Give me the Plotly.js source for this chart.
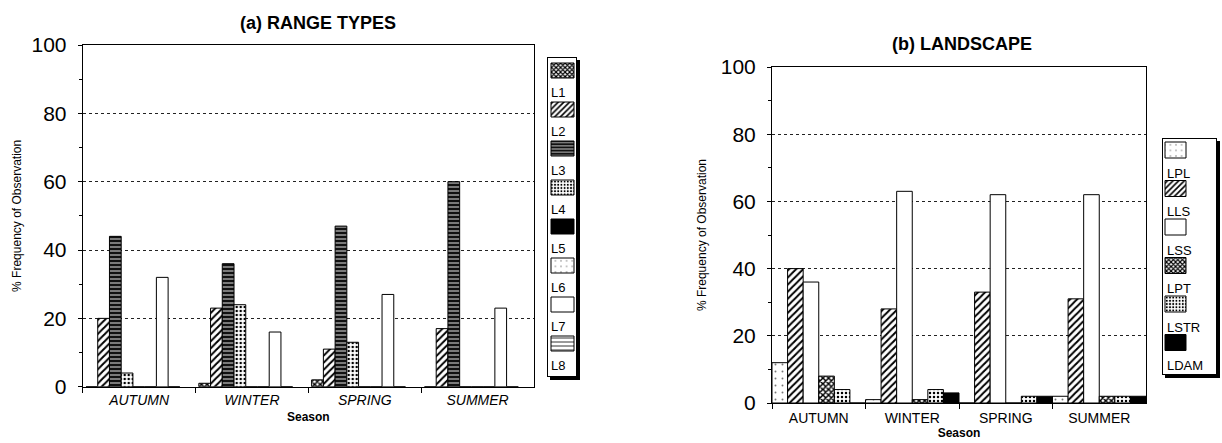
<!DOCTYPE html>
<html><head><meta charset="utf-8">
<script src="https://cdn.plot.ly/plotly-3.0.1.min.js"></script>
<style>html,body{margin:0;padding:0;background:#fff}#chart{width:1222px;height:443px}</style>
</head><body><div id="chart"></div>
<script>
// ---------- data ----------
const seasons = ["AUTUMN", "WINTER", "SPRING", "SUMMER"];

// (a) RANGE TYPES
const rangeNames = ["L1", "L2", "L3", "L4", "L5", "L6", "L7", "L8"];
const rangeL1 = [0, 1, 2, 0];
const rangeL2 = [20, 23, 11, 17];
const rangeL3 = [44, 36, 47, 60];
const rangeL4 = [4, 24, 13, 0];
const rangeL5 = [0, 0, 0, 0];
const rangeL6 = [0, 0, 0, 0];
const rangeL7 = [32, 16, 27, 23];
const rangeL8 = [0, 0, 0, 0];

// (b) LANDSCAPE
const landNames = ["LPL", "LLS", "LSS", "LPT", "LSTR", "LDAM"];
const landLPL = [12, 1, 0, 2];
const landLLS = [40, 28, 33, 31];
const landLSS = [36, 63, 62, 62];
const landLPT = [8, 1, 0, 2];
const landLSTR = [4, 4, 2, 2];
const landLDAM = [0, 3, 2, 2];

const yTicks = [0, 20, 40, 60, 80, 100];

// ---------- styles ----------
const W = 1222, H = 443;
const px = x => x / W;
const py = y => 1 - y / H;
const FONT = "Liberation Sans, Arial, Helvetica, sans-serif";

const FILLS = {
  crosshatch: {color: "#fff", pattern: {shape: "x", fgcolor: "#000", bgcolor: "#fff", size: 4, solidity: 0.6}},
  diag:       {color: "#fff", pattern: {shape: "/", fgcolor: "#000", bgcolor: "#fff", size: 5, solidity: 0.4}},
  darkh:      {color: "#111", pattern: {shape: "-", fgcolor: "#fff", bgcolor: "#111", size: 4, solidity: 0.22}},
  dots:       {color: "#fff", pattern: {shape: ".", fgcolor: "#000", bgcolor: "#fff", size: 4, solidity: 0.3}},
  black:      {color: "#000"},
  sparse:     {color: "#fff", pattern: {shape: ".", fgcolor: "#777", bgcolor: "#fff", size: 7, solidity: 0.06}},
  white:      {color: "#fff"},
  hlines:     {color: "#fff", pattern: {shape: "-", fgcolor: "#000", bgcolor: "#fff", size: 5, solidity: 0.2}}
};
const rangeFills = ["crosshatch", "diag", "darkh", "dots", "black", "sparse", "white", "hlines"];
const landFills = ["sparse", "diag", "white", "crosshatch", "dots", "black"];

const rangeSeries = [rangeL1, rangeL2, rangeL3, rangeL4, rangeL5, rangeL6, rangeL7, rangeL8];
const landSeries = [landLPL, landLLS, landLSS, landLPT, landLSTR, landLDAM];

// bar geometry for panel (a): bar width and group start as fraction of a category
const A_BAR_W = 11.75 / 113;
const A_START = 3.3 / 113;

function makeBar(name, y, fillKey, xa, ya, legendId, extra) {
  const f = FILLS[fillKey];
  const marker = {color: f.color, line: {color: "#000", width: 1}};
  if (f.pattern) marker.pattern = f.pattern;
  return Object.assign({
    type: "bar", name: name, x: seasons, y: y,
    xaxis: xa, yaxis: ya, legend: legendId, legendgroup: legendId + name,
    marker: marker, hovertemplate: name + " %{x}: %{y}%<extra></extra>"
  }, extra || {});
}

const traces = [];
rangeSeries.forEach((s, i) => traces.push(makeBar(rangeNames[i], s, rangeFills[i], "x", "y", "legend",
  {width: A_BAR_W, offset: -0.5 + A_START + i * A_BAR_W})));
landSeries.forEach((s, i) => traces.push(makeBar(landNames[i], s, landFills[i], "x2", "y2", "legend2")));

function xAxis(dom, anchor, italic, standoff, labStand) {
  return {
    domain: dom, anchor: anchor, type: "category", range: [-0.5, 3.5],
    showline: true, mirror: true, linecolor: "#000", linewidth: 1,
    ticks: "outside", tickson: "boundaries", ticklen: 5, tickcolor: "#000",
    ticklabelstandoff: labStand,
    tickfont: {family: FONT, size: 14, color: "#000", style: italic ? "italic" : "normal"},
    showgrid: false, zeroline: false, automargin: false, fixedrange: true,
    title: {text: "Season", font: {family: FONT, size: 12, weight: "bold", color: "#000"}, standoff: standoff}
  };
}
function yAxis(dom, anchor, standoff) {
  return {
    domain: dom, anchor: anchor, range: [0, 100], tickvals: yTicks,
    showline: true, mirror: true, linecolor: "#000", linewidth: 1,
    ticks: "outside", ticklen: 4, tickcolor: "#000", ticklabelstandoff: 7,
    tickfont: {family: FONT, size: 21, color: "#000"},
    showgrid: true, gridcolor: "#222", griddash: "dot", gridwidth: 1,
    zeroline: false, automargin: false, fixedrange: true,
    minor: {dtick: 10, ticks: "outside", ticklen: 3, tickcolor: "#000", showgrid: false},
    title: {text: "% Frequency of Observation", font: {family: FONT, size: 12, color: "#000"}, standoff: standoff}
  };
}

// legend boxes (pixel geometry of the reference legends)
const LEG_A = {box: {x0: 547, y0: 57, x1: 577, y1: 377}, item: {y0: 6, step: 39, sx: 4, sw: 23, sh: 15, lx: 4, ly: 34}, names: rangeNames};
const LEG_B = {box: {x0: 1162, y0: 138, x1: 1217, y1: 375}, item: {y0: 4, step: 38.5, sx: 3, sw: 21, sh: 16, lx: 5, ly: 35.5}, names: landNames};

const legendBase = {
  xanchor: "left", yanchor: "top", bgcolor: "#fff", bordercolor: "#000", borderwidth: 1,
  font: {family: FONT, size: 13, color: "#000"}, tracegroupgap: 20, itemwidth: 30,
  traceorder: "grouped"
};

function shadow(L) {
  const o = 3, b = L.box;
  return {type: "rect", xref: "paper", yref: "paper", layer: "above",
    x0: px(b.x0 + o), x1: px(b.x1 + o), y0: py(b.y1 + o), y1: py(b.y0 + o),
    fillcolor: "#000", line: {width: 0}};
}

const layout = {
  width: W, height: H, margin: {l: 0, r: 0, t: 0, b: 0, autoexpand: false},
  paper_bgcolor: "#fff", plot_bgcolor: "#fff",
  font: {family: FONT, color: "#000"},
  barmode: "group", bargap: 0, bargroupgap: 0,
  xaxis: xAxis([px(82.7), px(534)], "y", true, 6, 0),
  yaxis: yAxis([py(386.7), py(45)], "x", 7),
  xaxis2: xAxis([px(772), px(1146)], "y2", false, 3, 2),
  yaxis2: yAxis([py(403), py(67)], "x2", 11),
  legend: Object.assign({}, legendBase, {x: px(LEG_A.box.x0), y: py(LEG_A.box.y0)}),
  legend2: Object.assign({}, legendBase, {x: px(1219), y: py(LEG_B.box.y0), xanchor: "right"}),
  shapes: [shadow(LEG_A), shadow(LEG_B)],
  annotations: [
    {text: "(a) RANGE TYPES", xref: "paper", yref: "paper", x: px(318), y: py(23),
     showarrow: false, xanchor: "center", yanchor: "middle",
     font: {family: FONT, size: 18, weight: "bold", color: "#000"}},
    {text: "(b) LANDSCAPE", xref: "paper", yref: "paper", x: px(962), y: py(44),
     showarrow: false, xanchor: "center", yanchor: "middle",
     font: {family: FONT, size: 18, weight: "bold", color: "#000"}}
  ],
  showlegend: true
};

// Re-arrange Plotly's legend entries into the narrow "swatch above label" style of the reference
function compactLegend(gd, id, L) {
  const b = L.box, it = L.item;
  gd.querySelectorAll("g." + id).forEach(g => {
    g.setAttribute("transform", "translate(" + b.x0 + "," + b.y0 + ")");
    const bg = g.querySelector("rect.bg");
    if (bg) {
      bg.setAttribute("x", 0.5); bg.setAttribute("y", 0.5);
      bg.setAttribute("width", b.x1 - b.x0 - 1); bg.setAttribute("height", b.y1 - b.y0 - 1);
    }
    g.querySelectorAll("g.scrollbox").forEach(sb => { sb.removeAttribute("clip-path"); sb.setAttribute("transform", ""); });
    g.querySelectorAll("g.groups").forEach(e => e.setAttribute("transform", ""));
    g.querySelectorAll("rect.scrollbar").forEach(e => e.remove());
    let k = 0;
    g.querySelectorAll("text.legendtext, text." + id + "text").forEach(t => {
      const tr = t.closest("g.traces") || t.parentNode;
      let i = L.names.indexOf((t.textContent || "").trim());
      if (i < 0) i = k;
      k++;
      tr.setAttribute("transform", "translate(0," + (it.y0 + i * it.step) + ")");
      tr.querySelectorAll("g.legendpoints path, g." + id + "points path").forEach(p => {
        p.setAttribute("d", "M" + it.sx + ",0h" + it.sw + "v" + it.sh + "h" + (-it.sw) + "Z");
        p.removeAttribute("transform");
      });
      t.setAttribute("x", it.lx); t.setAttribute("y", it.ly);
      t.querySelectorAll("tspan").forEach(s => { if (s.hasAttribute("x")) s.setAttribute("x", it.lx); });
      tr.querySelectorAll("rect.legendtoggle, rect." + id + "toggle").forEach(e => e.remove());
    });
  });
}
function compactAll(gd) {
  try { compactLegend(gd, "legend", LEG_A); } catch (e) {}
  try { compactLegend(gd, "legend2", LEG_B); } catch (e) {}
}

Plotly.newPlot("chart", traces, layout, {staticPlot: true, displayModeBar: false}).then(gd => {
  compactAll(gd);
  gd.on("plotly_afterplot", () => compactAll(gd));
  requestAnimationFrame(() => compactAll(gd));
  setTimeout(() => compactAll(gd), 50);
});
</script>
</body></html>
